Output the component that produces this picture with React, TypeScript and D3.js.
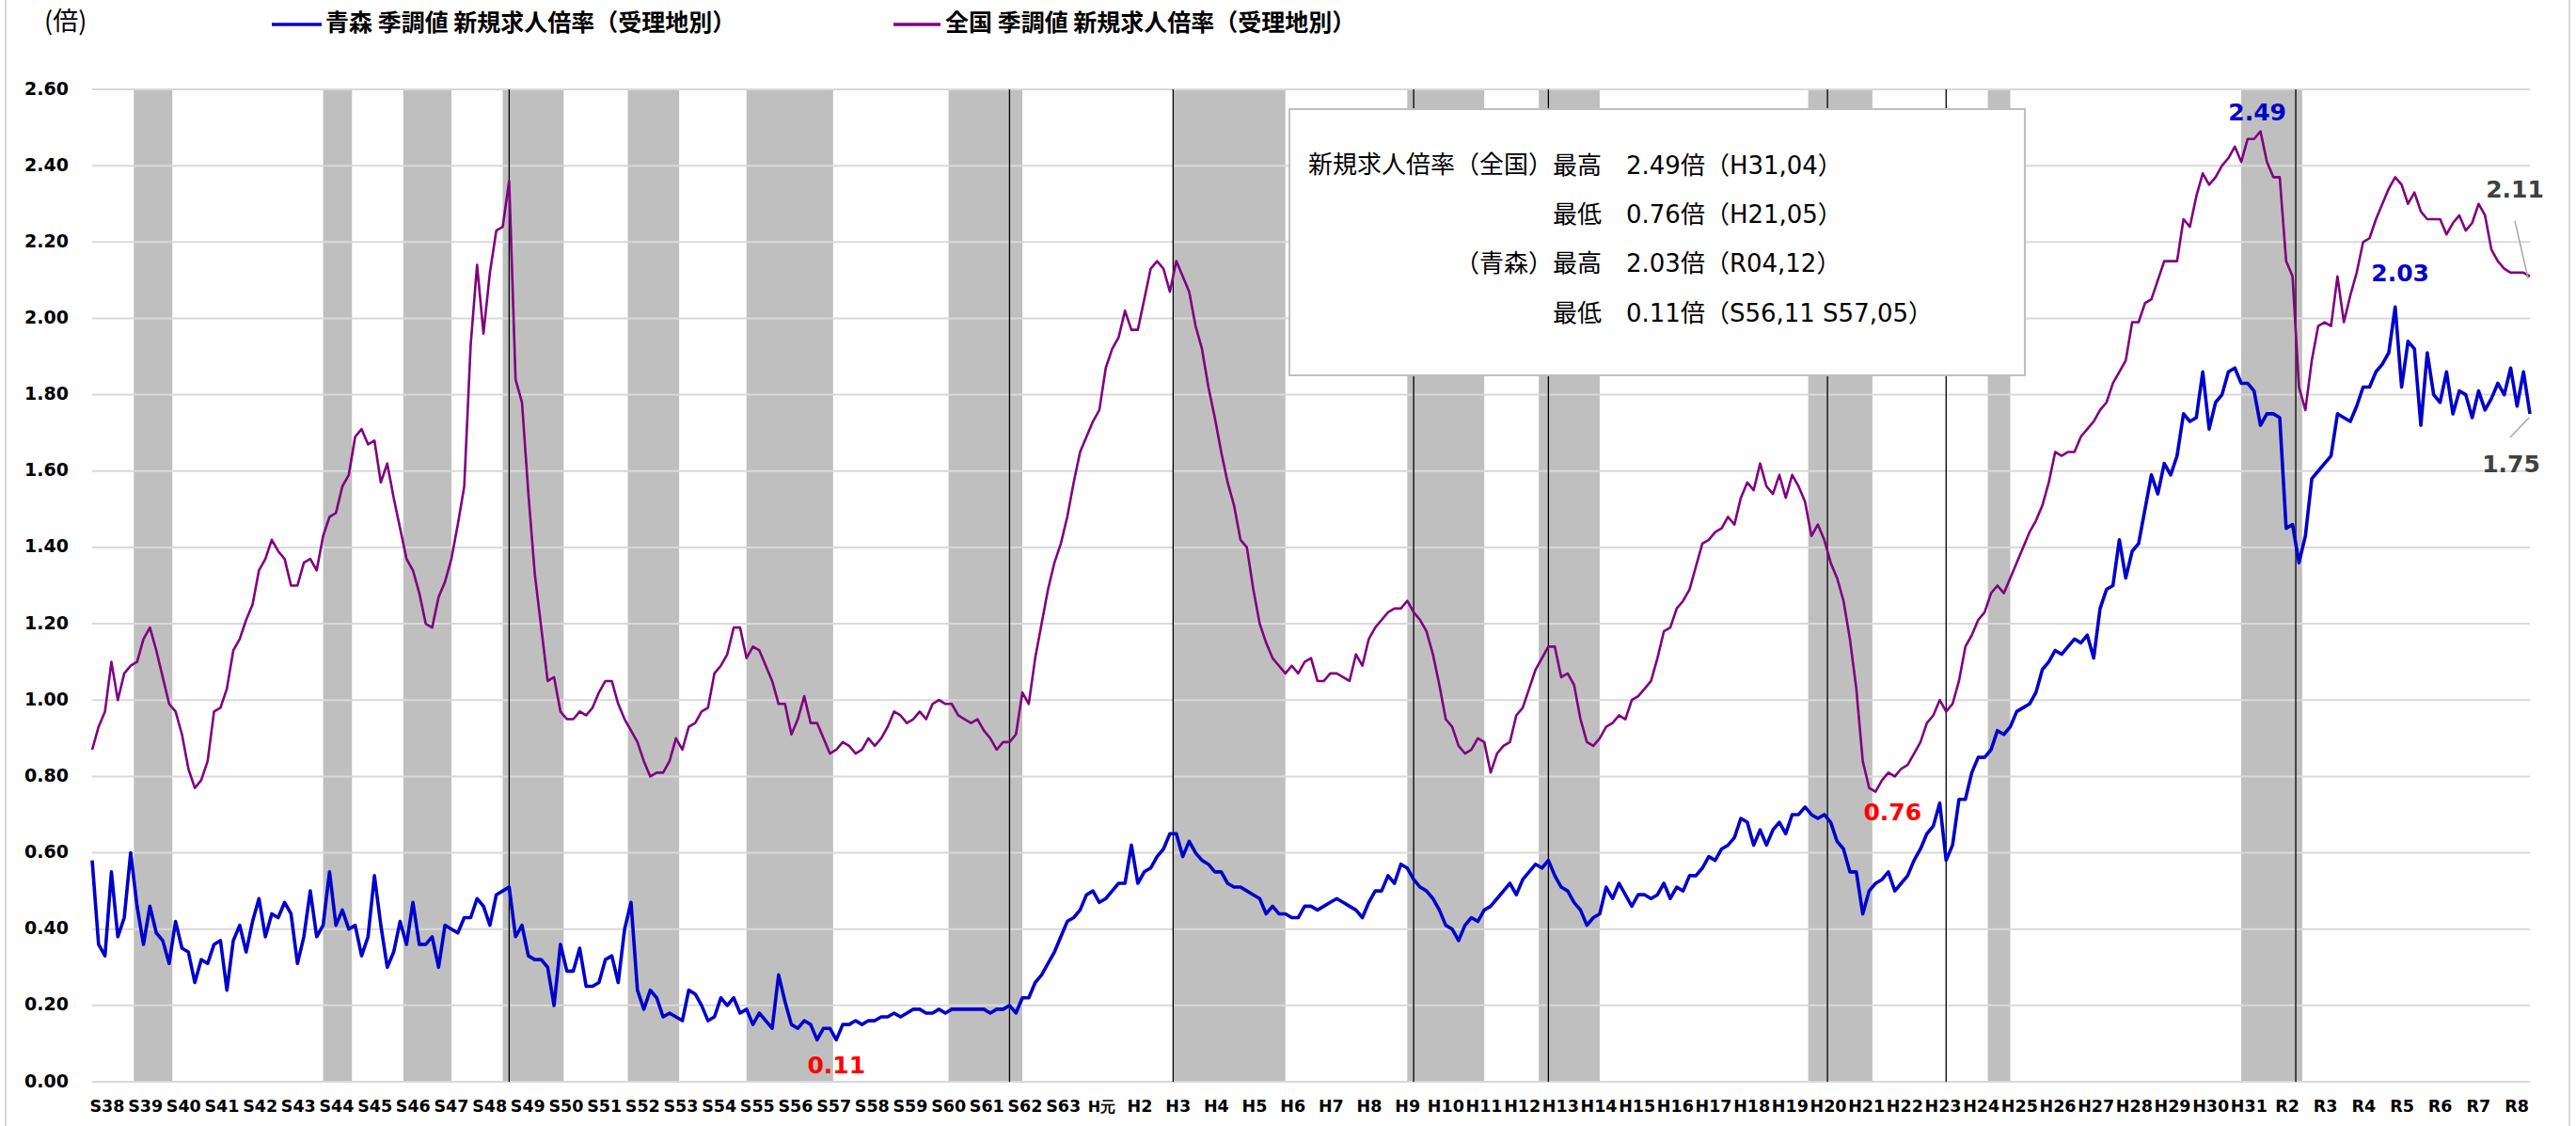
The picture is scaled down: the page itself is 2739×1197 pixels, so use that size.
import React from "react";
import * as d3 from "d3";

// monthly series sampled every 2 months, starting S38 (1963) January
const START_YEAR = 1963;
const STEP = 2;

// 全国 季調値 新規求人倍率（受理地別）
const nationalValues = [
  0.87, 0.93, 0.97, 1.10, 1.00, 1.07, 1.09, 1.10, 1.16, 1.19,
  1.13, 1.06, 0.99, 0.97, 0.91, 0.82, 0.77, 0.79, 0.84, 0.97,
  0.98, 1.03, 1.13, 1.16, 1.21, 1.25, 1.34, 1.37, 1.42, 1.39,
  1.37, 1.30, 1.30, 1.36, 1.37, 1.34, 1.43, 1.48, 1.49, 1.56,
  1.59, 1.69, 1.71, 1.67, 1.68, 1.57, 1.62, 1.53, 1.45, 1.37,
  1.34, 1.28, 1.20, 1.19, 1.27, 1.31, 1.37, 1.46, 1.56, 1.93,
  2.14, 1.96, 2.12, 2.23,
  2.24, 2.36, 1.84, 1.78, 1.54, 1.33, 1.19, 1.05, 1.06, 0.97,
  0.95, 0.95, 0.97, 0.96, 0.98, 1.02, 1.05, 1.05, 0.99, 0.95,
  0.92, 0.89, 0.84, 0.80, 0.81, 0.81, 0.84, 0.90, 0.87, 0.93,
  0.94, 0.97, 0.98, 1.07, 1.09, 1.12, 1.19, 1.19, 1.11, 1.14,
  1.13, 1.09, 1.05, 0.99, 0.99, 0.91, 0.95, 1.01, 0.94, 0.94,
  0.90, 0.86, 0.87, 0.89, 0.88, 0.86, 0.87, 0.90, 0.88, 0.90,
  0.93, 0.97, 0.96,
  0.94, 0.95, 0.97, 0.95, 0.99, 1.00, 0.99, 0.99, 0.96, 0.95,
  0.94, 0.95, 0.92, 0.90, 0.87, 0.89, 0.89, 0.91, 1.02, 0.99,
  1.11, 1.20, 1.29, 1.36, 1.41, 1.48, 1.57, 1.65, 1.69, 1.73,
  1.76, 1.87, 1.92, 1.95, 2.02, 1.97, 1.97, 2.05, 2.13, 2.15,
  2.13, 2.07, 2.15, 2.11, 2.07, 1.98, 1.92, 1.82, 1.74, 1.65,
  1.57, 1.51, 1.42, 1.40, 1.29, 1.20, 1.15, 1.11, 1.09, 1.07,
  1.09, 1.07, 1.10,
  1.11, 1.05, 1.05, 1.07, 1.07, 1.06, 1.05, 1.12, 1.09, 1.16,
  1.19, 1.21, 1.23, 1.24, 1.24, 1.26, 1.23, 1.21, 1.18, 1.12,
  1.04, 0.95, 0.93, 0.88, 0.86, 0.87, 0.90, 0.89, 0.81, 0.86,
  0.88, 0.89, 0.96, 0.98, 1.03, 1.08, 1.11, 1.14, 1.14, 1.06,
  1.07, 1.04, 0.95, 0.89, 0.88, 0.90, 0.93, 0.94, 0.96, 0.95,
  1.00, 1.01, 1.03, 1.05, 1.11, 1.18, 1.19, 1.24, 1.26, 1.29,
  1.35, 1.41, 1.42,
  1.44, 1.45, 1.48, 1.46, 1.53, 1.57, 1.55, 1.62, 1.56, 1.54,
  1.59, 1.53, 1.59, 1.56, 1.52, 1.43, 1.46, 1.42, 1.36, 1.32,
  1.26, 1.16, 1.03, 0.84, 0.77, 0.76, 0.79, 0.81, 0.80, 0.82,
  0.83, 0.86, 0.89, 0.94, 0.96, 1.00, 0.97, 0.99, 1.05, 1.14,
  1.17, 1.21, 1.23, 1.28, 1.30, 1.28, 1.32, 1.36, 1.40, 1.44,
  1.47, 1.51, 1.57, 1.65, 1.64, 1.65, 1.65, 1.69, 1.71, 1.73,
  1.76, 1.78, 1.83,
  1.86, 1.89, 1.99, 1.99, 2.04, 2.05, 2.10, 2.15, 2.15, 2.15,
  2.26, 2.24, 2.32, 2.38, 2.35, 2.37, 2.40, 2.42, 2.45, 2.41,
  2.47, 2.47, 2.49, 2.41, 2.37, 2.37, 2.15, 2.11, 1.82, 1.76,
  1.89, 1.98, 1.99, 1.98, 2.11, 1.99, 2.06, 2.12, 2.20, 2.21,
  2.26, 2.30, 2.34, 2.37, 2.35, 2.30, 2.33, 2.28, 2.26, 2.26,
  2.26, 2.22, 2.25, 2.27, 2.23, 2.25, 2.30, 2.27, 2.18, 2.15,
  2.13, 2.12, 2.12, 2.12, 2.11,
];

// 青森 季調値 新規求人倍率（受理地別）
const aomoriValues = [
  0.58, 0.36, 0.33, 0.55, 0.38, 0.43, 0.60, 0.46, 0.36, 0.46,
  0.39, 0.37, 0.31, 0.42, 0.35, 0.34, 0.26, 0.32, 0.31, 0.36,
  0.37, 0.24, 0.37, 0.41, 0.34, 0.42, 0.48, 0.38, 0.44, 0.43,
  0.47, 0.44, 0.31, 0.38, 0.50, 0.38, 0.41, 0.55, 0.41, 0.45,
  0.40, 0.41, 0.33, 0.38, 0.54, 0.41, 0.30, 0.34, 0.42, 0.36,
  0.47, 0.36, 0.36, 0.38, 0.30, 0.41, 0.40, 0.39, 0.43, 0.43,
  0.48, 0.46, 0.41, 0.49,
  0.50, 0.51, 0.38, 0.41, 0.33, 0.32, 0.32, 0.30, 0.20, 0.36,
  0.29, 0.29, 0.35, 0.25, 0.25, 0.26, 0.32, 0.33, 0.26, 0.40,
  0.47, 0.24, 0.19, 0.24, 0.22, 0.17, 0.18, 0.17, 0.16, 0.24,
  0.23, 0.20, 0.16, 0.17, 0.22, 0.20, 0.22, 0.18, 0.19, 0.15,
  0.18, 0.16, 0.14, 0.28, 0.21, 0.15, 0.14, 0.16, 0.15, 0.11,
  0.14, 0.14, 0.11, 0.15, 0.15, 0.16, 0.15, 0.16, 0.16, 0.17,
  0.17, 0.18, 0.17,
  0.18, 0.19, 0.19, 0.18, 0.18, 0.19, 0.18, 0.19, 0.19, 0.19,
  0.19, 0.19, 0.19, 0.18, 0.19, 0.19, 0.20, 0.18, 0.22, 0.22,
  0.26, 0.28, 0.31, 0.34, 0.38, 0.42, 0.43, 0.45, 0.49, 0.50,
  0.47, 0.48, 0.50, 0.52, 0.52, 0.62, 0.52, 0.55, 0.56, 0.59,
  0.61, 0.65, 0.65, 0.59, 0.63, 0.60, 0.58, 0.57, 0.55, 0.55,
  0.52, 0.51, 0.51, 0.50, 0.49, 0.48, 0.44, 0.46, 0.44, 0.44,
  0.43, 0.43, 0.46,
  0.46, 0.45, 0.46, 0.47, 0.48, 0.47, 0.46, 0.45, 0.43, 0.47,
  0.50, 0.50, 0.54, 0.52, 0.57, 0.56, 0.53, 0.51, 0.50, 0.48,
  0.45, 0.41, 0.40, 0.37, 0.41, 0.43, 0.42, 0.45, 0.46, 0.48,
  0.50, 0.52, 0.49, 0.53, 0.55, 0.57, 0.56, 0.58, 0.54, 0.51,
  0.50, 0.47, 0.45, 0.41, 0.43, 0.44, 0.51, 0.48, 0.52, 0.49,
  0.46, 0.49, 0.49, 0.48, 0.49, 0.52, 0.48, 0.51, 0.50, 0.54,
  0.54, 0.56, 0.59,
  0.58, 0.61, 0.62, 0.64, 0.69, 0.68, 0.62, 0.66, 0.62, 0.66,
  0.68, 0.65, 0.70, 0.70, 0.72, 0.70, 0.69, 0.70, 0.68, 0.63,
  0.61, 0.55, 0.55, 0.44, 0.50, 0.52, 0.53, 0.55, 0.50, 0.52,
  0.54, 0.58, 0.61, 0.65, 0.67, 0.73, 0.58, 0.62, 0.74, 0.74,
  0.81, 0.85, 0.85, 0.87, 0.92, 0.91, 0.93, 0.97, 0.98, 0.99,
  1.02, 1.08, 1.10, 1.13, 1.12, 1.14, 1.16, 1.15, 1.17, 1.11,
  1.24, 1.29, 1.30,
  1.42, 1.32, 1.39, 1.41, 1.50, 1.59, 1.54, 1.62, 1.59, 1.64,
  1.75, 1.73, 1.74, 1.86, 1.71, 1.78, 1.80, 1.86, 1.87, 1.83,
  1.83, 1.81, 1.72, 1.75, 1.75, 1.74, 1.45, 1.46, 1.36, 1.43,
  1.58, 1.60, 1.62, 1.64, 1.75, 1.74, 1.73, 1.77, 1.82, 1.82,
  1.86, 1.88, 1.91, 2.03, 1.82, 1.94, 1.92, 1.72, 1.91, 1.80,
  1.78, 1.86, 1.75, 1.81, 1.80, 1.74, 1.81, 1.76, 1.79, 1.83,
  1.80, 1.87, 1.77, 1.86, 1.75,
];

// shaded periods (start, end)
const shadedPeriods = [
  ["1964-02", "1965-02"], ["1969-01", "1969-10"], ["1971-02", "1972-05"],
  ["1973-09", "1975-04"], ["1976-12", "1978-04"], ["1980-01", "1982-04"],
  ["1985-04", "1987-03"], ["1991-02", "1994-01"], ["1997-03", "1999-03"],
  ["2000-08", "2002-03"], ["2007-08", "2009-04"], ["2012-04", "2012-11"],
  ["2018-11", "2020-06"],
];
const eventMonths = [
  "1973-11", "1986-11", "1991-02", "1997-05", "2000-11", "2008-02", "2011-03", "2020-04",
];

const yearLabels = [
  "S38", "S39", "S40", "S41", "S42", "S43", "S44", "S45", "S46", "S47", "S48", "S49", "S50",
  "S51", "S52", "S53", "S54", "S55", "S56", "S57", "S58", "S59", "S60", "S61", "S62", "S63",
  "H元", "H2", "H3", "H4", "H5", "H6", "H7", "H8", "H9", "H10", "H11", "H12", "H13", "H14",
  "H15", "H16", "H17", "H18", "H19", "H20", "H21", "H22", "H23", "H24", "H25", "H26", "H27",
  "H28", "H29", "H30", "H31", "R2", "R3", "R4", "R5", "R6", "R7", "R8",
];

const noteRows = [
  ["新規求人倍率（全国）", "最高　2.49倍（H31,04）"],
  ["", "最低　0.76倍（H21,05）"],
  ["（青森）", "最高　2.03倍（R04,12）"],
  ["", "最低　0.11倍（S56,11 S57,05）"],
];

const BLUE = "#0000cc";
const PURPLE = "#800080";
const LATIN = "'DejaVu Sans', Verdana, sans-serif";
const CJK = "'Noto Sans CJK JP', sans-serif";
const MIXED = "'DejaVu Sans', 'Noto Sans CJK JP', sans-serif";

const monthIndex = (ym: string) => {
  const [yy, mm] = ym.split("-").map(Number);
  return (yy - START_YEAR) * 12 + mm - 1;
};

export default function App() {
  const W = 2739;
  const H = 1197;
  const lastMonth = (nationalValues.length - 1) * STEP;

  const x = d3.scaleLinear().domain([0, lastMonth]).range([98, 2690]);
  const y = d3.scaleLinear().domain([0, 2.6]).range([1150, 95]);
  const xLabel = d3.scalePoint<string>().domain(yearLabels).range([114, 2676]);
  const yTicks = d3.range(14).map((i) => i * 0.2);
  const fmt = d3.format(".2f");

  const line = d3
    .line<number>()
    .x((_, i) => x(i * STEP))
    .y((d) => y(d));

  const lastN = nationalValues[nationalValues.length - 1];
  const lastA = aomoriValues[aomoriValues.length - 1];

  return (
    <>
      <style>{`body{margin:0;overflow:hidden}`}</style>
      <svg width={W} height={H} style={{ display: "block", background: "#fff" }}>
        <rect x={6} y={-10} width={2726} height={H + 20} fill="#fff" stroke="#d9d9d9" strokeWidth={2} />

        {/* shaded bands */}
        {shadedPeriods.map(([a, b]) => (
          <rect
            key={a}
            x={x(monthIndex(a))}
            y={y(2.6)}
            width={x(monthIndex(b)) - x(monthIndex(a))}
            height={y(0) - y(2.6)}
            fill="#bfbfbf"
          />
        ))}

        {/* grid */}
        {yTicks.map((t) => (
          <line key={t} x1={98} x2={2690} y1={y(t)} y2={y(t)} stroke="#d9d9d9" strokeWidth={2} />
        ))}

        {eventMonths.map((m) => (
          <line key={m} x1={x(monthIndex(m))} x2={x(monthIndex(m))} y1={y(2.6)} y2={y(0)} stroke="#000" strokeWidth={1.3} />
        ))}

        {/* y axis labels */}
        {yTicks.map((t) => (
          <text
            key={t}
            x={73}
            y={y(t)}
            textAnchor="end"
            dominantBaseline="middle"
            fontFamily={LATIN}
            fontWeight="bold"
            fontSize={19}
            fill="#000"
          >
            {fmt(t)}
          </text>
        ))}

        {/* x axis labels */}
        {yearLabels.map((l) => (
          <text
            key={l}
            x={xLabel(l)}
            y={1177}
            textAnchor="middle"
            dominantBaseline="middle"
            fontFamily={LATIN}
            fontWeight="bold"
            fontSize={l === "H元" ? 16 : 17.5}
            fill="#000"
          >
            {l}
          </text>
        ))}

        {/* series */}
        <path d={line(nationalValues) || ""} fill="none" stroke={PURPLE} strokeWidth={2.6} strokeLinejoin="round" />
        <path d={line(aomoriValues) || ""} fill="none" stroke={BLUE} strokeWidth={3.6} strokeLinejoin="round" />

        {/* note box */}
        <rect x={1371} y={116} width={782} height={283} fill="#fff" stroke="#bfbfbf" strokeWidth={2} />
        {noteRows.map(([a, b], i) => (
          <g key={i} fontSize={26} fill="#000">
            <text x={1651} y={177 + i * 52.4} textAnchor="end" dominantBaseline="middle" fontFamily={CJK}>
              {a}
            </text>
            <text x={1651} y={177 + i * 52.4} dominantBaseline="middle" fontFamily={MIXED}>
              {b}
            </text>
          </g>
        ))}

        {/* value labels */}
        <g fontFamily={LATIN} fontWeight="bold" fontSize={25} textAnchor="middle" dominantBaseline="middle">
          <text x={x(monthIndex("2019-04"))} y={y(2.49) - 19} fill={BLUE}>2.49</text>
          <text x={x(monthIndex("2022-12")) + 2} y={y(2.03) - 34} fill={BLUE}>2.03</text>
          <text x={x(monthIndex("2009-05")) + 18} y={y(0.76) + 23} fill="#ff0000">0.76</text>
          <text x={x(monthIndex("1982-05"))} y={y(0.11) + 29} fill="#ff0000">0.11</text>
          <text x={x(lastMonth) - 16} y={y(lastN) - 91} fill="#404040">{fmt(lastN)}</text>
          <text x={x(lastMonth) - 20} y={y(lastA) + 55} fill="#404040">{fmt(lastA)}</text>
        </g>
        <line x1={x(lastMonth) - 16} y1={y(lastN) - 59} x2={x(lastMonth) - 2} y2={y(lastN) + 2} stroke="#a6a6a6" strokeWidth={1.5} />
        <line x1={x(lastMonth) - 21} y1={y(lastA) + 25} x2={x(lastMonth) - 1} y2={y(lastA) + 4} stroke="#a6a6a6" strokeWidth={1.5} />

        {/* legend */}
        <text x={47} y={25} fontFamily={CJK} fontSize={27} dominantBaseline="middle" fill="#000">(倍)</text>
        <line x1={289} x2={342} y1={26} y2={26} stroke={BLUE} strokeWidth={3.5} />
        <text x={346} y={26} fontFamily={CJK} fontWeight="bold" fontSize={25} dominantBaseline="middle" fill="#000">
          青森 季調値 新規求人倍率（受理地別）
        </text>
        <line x1={950} x2={1000} y1={26} y2={26} stroke={PURPLE} strokeWidth={3.5} />
        <text x={1005} y={26} fontFamily={CJK} fontWeight="bold" fontSize={25} dominantBaseline="middle" fill="#000">
          全国 季調値 新規求人倍率（受理地別）
        </text>
      </svg>
    </>
  );
}
